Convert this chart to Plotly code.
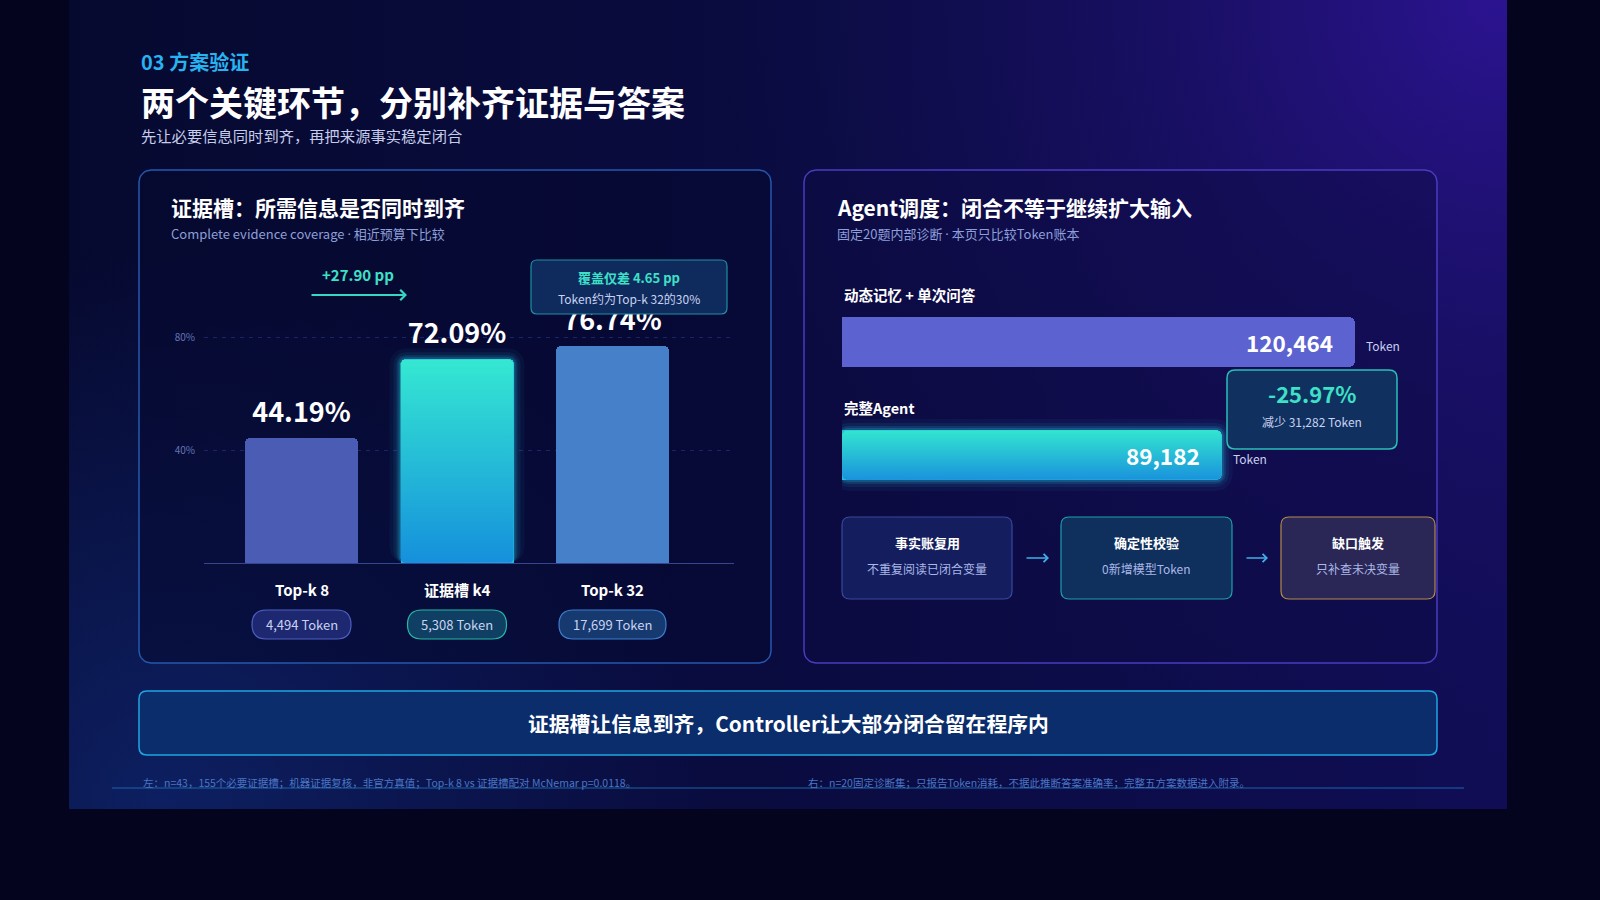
import math
import plotly.graph_objects as go

# ---------------- data ----------------
left_categories = ["Top-k 8", "证据槽 k4", "Top-k 32"]
left_coverage = [44.19, 72.09, 76.74]          # %
left_tokens = [4494, 5308, 17699]
left_yticks = [40, 80]
left_yticklabels = ["40%", "80%"]

right_categories = ["动态记忆 + 单次问答", "完整Agent"]
right_tokens = [120464, 89182]

flow_titles = ["事实账复用", "确定性校验", "缺口触发"]
flow_subs = ["不重复阅读已闭合变量", "0新增模型Token", "只补查未决变量"]

# ---------------- style / layout ----------------
FONT = "Noto Sans CJK SC, Noto Sans, sans-serif"
DOT = " <span style='font-family:Noto Sans'>·</span> "
W, H = 1600, 900
WHITE = "#ffffff"
TEAL = "#3ee0c8"

# left chart geometry (pixels)
L_X0, L_X1, L_YTOP, L_YBOT = 204, 734, 300, 563
L_CAT_PX, L_FIRST = 155.5, 301.5
L_PCT_PX = 2.825
L_BW = 113 / L_CAT_PX
L_HI = 1

# right chart geometry (pixels)
R_X0, R_X1, R_YTOP, R_YBOT = 842, 1437, 285, 512
R_PX_PER_TOKEN = 0.0042586
R_IDX_PX = 113
R_TOP_CENTER, R_BOT_CENTER = 342, 455
R_BW = 50 / R_IDX_PX
R_HI = 1  # second category highlighted

fig = go.Figure()


def add_poly(xs, ys, xa, ya, fillcolor=None, fillgradient=None, line=None):
    fig.add_trace(go.Scatter(
        x=xs, y=ys, xaxis=xa, yaxis=ya, mode="lines", fill="toself",
        fillcolor=fillcolor or "rgba(0,0,0,0)", fillgradient=fillgradient,
        line=line or dict(width=0, color="rgba(0,0,0,0)"),
        hoverinfo="skip", showlegend=False))


def rr_poly(x0, x1, y0, y1, rx, ry, n=8):
    pts = []
    corners = [(x1 - rx, y1 - ry, 0, 90), (x0 + rx, y1 - ry, 90, 180),
               (x0 + rx, y0 + ry, 180, 270), (x1 - rx, y0 + ry, 270, 360)]
    for cx, cy, a0, a1 in corners:
        for k in range(n + 1):
            a = math.radians(a0 + (a1 - a0) * k / n)
            pts.append((cx + rx * math.cos(a), cy + ry * math.sin(a)))
    pts.append(pts[0])
    return [p[0] for p in pts], [p[1] for p in pts]


def circle_poly(cx, cy, r, n=90):
    xs = [cx + r * math.cos(2 * math.pi * k / n) for k in range(n + 1)]
    ys = [cy + r * math.sin(2 * math.pi * k / n) for k in range(n + 1)]
    return xs, ys


def rr_path(x0, y0, x1, y1, r):
    return (f"M{x0+r},{y0} L{x1-r},{y0} Q{x1},{y0} {x1},{y0+r} L{x1},{y1-r} "
            f"Q{x1},{y1} {x1-r},{y1} L{x0+r},{y1} Q{x0},{y1} {x0},{y1-r} "
            f"L{x0},{y0+r} Q{x0},{y0} {x0+r},{y0} Z")


shapes = []
annotations = []


def box(x0, y0, x1, y1, r, fill, border, width=1.2):
    shapes.append(dict(type="path", path=rr_path(x0, y0, x1, y1, r), xref="x", yref="y",
                       fillcolor=fill, line=dict(color=border, width=width), layer="above"))


def txt(x, y, s, size, color, bold=False, xanchor="left", xref="x", yref="y", **kw):
    d = dict(x=x, y=y, xref=xref, yref=yref, text=s, showarrow=False, xanchor=xanchor,
             yanchor="middle", font=dict(family=FONT, size=size, color=color,
                                         weight=700 if bold else 400))
    d.update(kw)
    annotations.append(d)


# ---------------- background (subplot x/y in pixel units) ----------------
add_poly([69, 1507, 1507, 69, 69], [0, 0, 809, 809, 0], "x", "y",
         fillgradient=dict(type="horizontal",
                           colorscale=[[0, "#06092f"], [0.55, "#0a0c42"], [1, "#100d55"]]))
xs, ys = circle_poly(1500, 0, 780)
add_poly(xs, ys, "x", "y", fillgradient=dict(
    type="radial", colorscale=[[0, "rgba(46,20,150,0.92)"], [0.45, "rgba(36,18,125,0.45)"],
                               [1, "rgba(30,15,100,0)"]]))
xs, ys = circle_poly(160, 809, 560)
add_poly(xs, ys, "x", "y", fillgradient=dict(
    type="radial", colorscale=[[0, "rgba(18,46,130,0.6)"], [1, "rgba(18,46,130,0)"]]))
OUT = "#04041e"
add_poly([0, 69, 69, 0, 0], [0, 0, 900, 900, 0], "x", "y", fillcolor=OUT)
add_poly([1507, 1600, 1600, 1507, 1507], [0, 0, 900, 900, 0], "x", "y", fillcolor=OUT)
add_poly([69, 1507, 1507, 69, 69], [809, 809, 900, 900, 809], "x", "y", fillcolor=OUT)

# panels
xs, ys = rr_poly(139, 771, 170, 663, 12, 12)
add_poly(xs, ys, "x", "y", fillcolor="rgba(6,10,48,0.55)", line=dict(color="#2458ae", width=1.5))
xs, ys = rr_poly(804, 1437, 170, 663, 12, 12)
add_poly(xs, ys, "x", "y", fillcolor="rgba(14,12,66,0.45)", line=dict(color="#4b3bc0", width=1.5))

# ---------------- left chart ----------------
left_colors = ["#4a5cb4", "#22b8d8", "#4580c8"]
fig.add_trace(go.Bar(x=list(range(len(left_categories))), y=left_coverage, width=L_BW,
                     marker=dict(color=left_colors, cornerradius=5, line=dict(width=0)),
                     xaxis="x2", yaxis="y2", hoverinfo="skip", showlegend=False))
hx0, hx1 = L_HI - L_BW / 2, L_HI + L_BW / 2
hv = left_coverage[L_HI]
for d, a in [(11, 0.05), (7, 0.08), (4, 0.14), (2, 0.2)]:
    xs, ys = rr_poly(hx0 - d / L_CAT_PX, hx1 + d / L_CAT_PX, 0, hv + d / L_PCT_PX,
                     (5 + d) / L_CAT_PX, (5 + d) / L_PCT_PX)
    add_poly(xs, ys, "x2", "y2", fillcolor=f"rgba(40,200,235,{a})")
xs, ys = rr_poly(hx0, hx1, 0, hv, 5 / L_CAT_PX, 5 / L_PCT_PX)
add_poly(xs, ys, "x2", "y2", fillgradient=dict(type="vertical",
                                                colorscale=[[0, "#1590dc"], [1, "#35e8d2"]]))
fig.add_trace(go.Scatter(
    x=list(range(len(left_categories))), y=left_coverage, mode="markers+text",
    marker=dict(size=14, opacity=0),
    text=[f"{v:.2f}%" for v in left_coverage], textposition="top center",
    textfont=dict(family=FONT, size=27, color=WHITE, weight=700),
    cliponaxis=False, xaxis="x2", yaxis="y2", hoverinfo="skip", showlegend=False))

# category labels + token pills
pill_styles = [("#1d2870", "#4e5fc0"), ("#0f3f62", "#28b8a6"), ("#16396f", "#3d7fd0")]
for i, (cat, tok) in enumerate(zip(left_categories, left_tokens)):
    txt(i, 589, cat, 15, WHITE, bold=True, xanchor="center", xref="x2")
    s = f"{tok:,} Token"
    cx = L_FIRST + i * L_CAT_PX
    w = 8 * len(s) + 11
    box(cx - w / 2, 610, cx + w / 2, 639, 14.5, pill_styles[i][0], pill_styles[i][1], 1.2)
    txt(i, 624, s, 13, "#c9d2f2", xanchor="center", xref="x2")

# arrow + delta
txt(358, 274, f"+{left_coverage[1]-left_coverage[0]:.2f} pp", 15, TEAL, bold=True, xanchor="center")
annotations.append(dict(x=407, y=295, ax=310, ay=295, xref="x", yref="y", axref="x", ayref="y",
                        showarrow=True, arrowhead=4, arrowsize=1, arrowwidth=2,
                        arrowcolor="#35d8c4", text=""))

# callout
box(531, 260, 727, 314, 6, "#0f2b5e", "#1f8f9f", 1.2)
txt(629, 277, f"覆盖仅差 {left_coverage[2]-left_coverage[1]:.2f} pp", 13, TEAL, bold=True,
    xanchor="center")
txt(629, 298, f"Token约为{left_categories[2]}的{round(left_tokens[1]/left_tokens[2]*100)}%", 12,
    "#c8d2f0", xanchor="center")

# ---------------- right chart ----------------
r_idx = [len(right_categories) - 1 - i for i in range(len(right_categories))]
fig.add_trace(go.Bar(x=right_tokens, y=r_idx, orientation="h", width=R_BW,
                     marker=dict(color=["#5c62cf", "#22b8d8"], cornerradius=6, line=dict(width=0)),
                     xaxis="x3", yaxis="y3", hoverinfo="skip", showlegend=False))
yi = r_idx[R_HI]
rv = right_tokens[R_HI]
for d, a in [(11, 0.05), (7, 0.08), (4, 0.14), (2, 0.2)]:
    xs, ys = rr_poly(-d / R_PX_PER_TOKEN, rv + d / R_PX_PER_TOKEN,
                     yi - R_BW / 2 - d / R_IDX_PX, yi + R_BW / 2 + d / R_IDX_PX,
                     (6 + d) / R_PX_PER_TOKEN, (6 + d) / R_IDX_PX)
    add_poly(xs, ys, "x3", "y3", fillcolor=f"rgba(40,200,235,{a})")
xs, ys = rr_poly(0, rv, yi - R_BW / 2, yi + R_BW / 2, 6 / R_PX_PER_TOKEN, 6 / R_IDX_PX)
add_poly(xs, ys, "x3", "y3", fillgradient=dict(type="vertical",
                                                colorscale=[[0, "#1a92dc"], [1, "#33e6d0"]]))

for cat, tok, yv in zip(right_categories, right_tokens, r_idx):
    txt(0, yv, cat, 14.5, WHITE, bold=True, xref="x3", yref="y3", yshift=48)
    txt(tok, yv, f"{tok:,}", 22.5, WHITE, bold=True, xanchor="right", xref="x3", yref="y3",
        xshift=-20)
    txt(tok, yv, "Token", 12, "#c8d0f0", xref="x3", yref="y3", xshift=9, yshift=-3)

# right callout
diff = right_tokens[1] - right_tokens[0]
box(1227, 370, 1397, 449, 8, "#10305f", "#2bbfb6", 1.5)
txt(1312, 393, f"{diff / right_tokens[0] * 100:.2f}%", 22, TEAL, bold=True, xanchor="center")
txt(1312, 421, f"减少 {-diff:,} Token", 12, "#c8d2f0", xanchor="center")

# flow boxes
flow_pos = [(842, 1012), (1061, 1232), (1281, 1435)]
flow_styles = [("#141d5e", "#38489e"), ("#0f2f5d", "#1e9fac"), ("#2a2655", "#b38a4c")]
for (x0, x1), (fc, bc), t, s in zip(flow_pos, flow_styles, flow_titles, flow_subs):
    box(x0, 517, x1, 599, 8, fc, bc, 1.2)
    txt((x0 + x1) / 2, 542, t, 13, WHITE, bold=True, xanchor="center")
    txt((x0 + x1) / 2, 568, s, 12, "#aab8e8", xanchor="center")
for ax0, ax1 in [(1025, 1049), (1245, 1268)]:
    annotations.append(dict(x=ax1, y=558, ax=ax0, ay=558, xref="x", yref="y", axref="x",
                            ayref="y", showarrow=True, arrowhead=4, arrowsize=1,
                            arrowwidth=1.6, arrowcolor="#3fb0e8", text=""))

# ---------------- header ----------------
txt(139, 61, "03 方案验证", 20, "#27b2f0", bold=True)
txt(139, 101, "两个关键环节，分别补齐证据与答案", 34, WHITE, bold=True)
txt(139, 135, "先让必要信息同时到齐，再把来源事实稳定闭合", 15.3, "#c5cdea")
txt(169, 207, "证据槽：所需信息是否同时到齐", 21, WHITE, bold=True)
txt(169, 233, "Complete evidence coverage" + DOT + "相近预算下比较", 13, "#8d9fd8")
txt(835, 207, "Agent调度：闭合不等于继续扩大输入", 21, WHITE, bold=True)
txt(835, 233, "固定20题内部诊断" + DOT + "本页只比较Token账本", 13, "#8d9fd8")

# banner
box(139, 691, 1437, 755, 8, "#0b2d6b", "#1fa6e0", 1.5)
txt(788, 723, "证据槽让信息到齐，Controller让大部分闭合留在程序内", 20.8, WHITE, bold=True,
    xanchor="center")

# footnotes
shapes.append(dict(type="line", x0=112, x1=1464, y0=788, y1=788, xref="x", yref="y",
                   line=dict(color="#1a64a8", width=1), layer="above"))
txt(141, 782, "左：n=43，155个必要证据槽；机器证据复核，非官方真值；Top-k 8 vs 证据槽配对 McNemar p=0.0118。",
    10.5, "#4a76c4")
txt(806, 782, "右：n=20固定诊断集；只报告Token消耗，不据此推断答案准确率；完整五方案数据进入附录。",
    10.5, "#4a76c4")

# ---------------- axes ----------------
def dom_x(a, b):
    return [a / W, b / W]


def dom_y(top, bot):
    return [1 - bot / H, 1 - top / H]


hidden = dict(visible=False, showgrid=False, zeroline=False, fixedrange=True)
fig.update_layout(
    width=W, height=H, margin=dict(l=0, r=0, t=0, b=0),
    paper_bgcolor=OUT, plot_bgcolor="rgba(0,0,0,0)", showlegend=False,
    bargap=0, barmode="overlay",
    xaxis=dict(domain=[0, 1], range=[0, W], **hidden),
    yaxis=dict(domain=[0, 1], range=[H, 0], **hidden),
    xaxis2=dict(domain=dom_x(L_X0, L_X1), anchor="y2",
                range=[(L_X0 - L_FIRST) / L_CAT_PX, (L_X1 - L_FIRST) / L_CAT_PX],
                showgrid=False, zeroline=False, showticklabels=False, ticks="",
                showline=True, linecolor="#34468f", linewidth=1, fixedrange=True),
    yaxis2=dict(domain=dom_y(L_YTOP, L_YBOT), anchor="x2",
                range=[0, (L_YBOT - L_YTOP) / L_PCT_PX],
                tickvals=left_yticks, ticktext=left_yticklabels, ticks="",
                tickfont=dict(family=FONT, size=10, color="#6474b4"), ticklabelstandoff=8,
                showgrid=True, gridcolor="#1a2468", griddash="4px,5px", gridwidth=1,
                zeroline=False, showline=False, fixedrange=True),
    xaxis3=dict(domain=dom_x(R_X0, R_X1), anchor="y3",
                range=[0, (R_X1 - R_X0) / R_PX_PER_TOKEN], **hidden),
    yaxis3=dict(domain=dom_y(R_YTOP, R_YBOT), anchor="x3",
                range=[-(R_YBOT - R_BOT_CENTER) / R_IDX_PX, 1 + (R_TOP_CENTER - R_YTOP) / R_IDX_PX],
                **hidden),
    shapes=shapes, annotations=annotations,
)

fig.write_html("out.html", config={"displayModeBar": False},
               post_script="document.body.style.margin='0';document.body.style.overflow='hidden';")
